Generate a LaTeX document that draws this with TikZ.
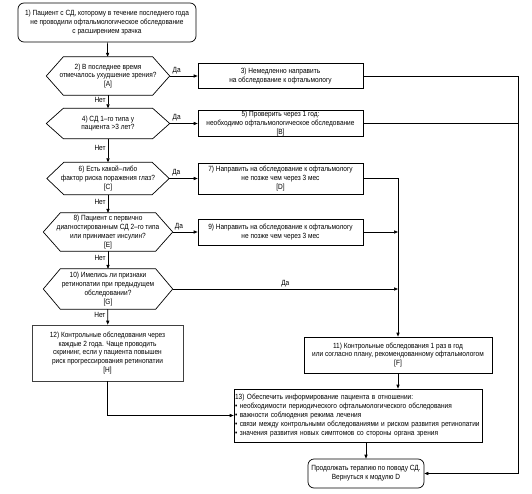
\documentclass[tikz,border=0pt]{standalone}
\usepackage{fontspec}
\setmainfont{Liberation Sans}[FakeStretch=0.87]
\usetikzlibrary{arrows.meta}
\newcommand\hexdraw[1]{\draw[ln] ([xshift=17pt]#1.north west) -- ([xshift=-17pt]#1.north east) -- (#1.east) -- ([xshift=-17pt]#1.south east) -- ([xshift=17pt]#1.south west) -- (#1.west) -- cycle;}
\begin{document}
\begin{tikzpicture}[x=1pt,y=-1pt,
  every node/.style={font=\fontsize{7.5}{8.8}\selectfont, inner sep=1pt},
  ln/.style={line width=0.7pt, black},
  arr/.style={ln, -{Triangle[length=4pt,width=3.2pt]}},
  boxn/.style={draw, line width=0.7pt, align=center},
  rnd/.style={boxn, rounded corners=6pt},
  hexn/.style={align=center, inner sep=0pt},
  lab/.style={font=\fontsize{7.5}{8}\selectfont}
]
\useasboundingbox (0,0) rectangle (532,494);
% nodes
\node[rnd, minimum width=178pt, minimum height=39pt] (n1) at (107,22.5)
  {1) Пациент с СД, которому в течение последнего года\\ не проводили офтальмологическое обследование\\ с расширением зрачка};
\node[hexn, minimum width=123pt, minimum height=38pt] (d2) at (108,76)
  {2) В последнее время\\ отмечалось ухудшение зрения?\\ {[A]}};
\node[boxn, minimum width=165pt, minimum height=25pt] (b3) at (280.5,76)
  {3) Немедленно направить\\ на обследование к офтальмологу};
\node[hexn, minimum width=123pt, minimum height=30pt] (d4) at (108,123.5)
  {4) СД 1–го типа у\\ пациента >3 лет?};
\node[boxn, minimum width=165pt, minimum height=25pt] (b5) at (280.5,123.5)
  {5) Проверить через 1 год:\\ необходимо офтальмологическое обследование\\ {[B]}};
\node[hexn, minimum width=122pt, minimum height=32pt] (d6) at (108,178.5)
  {6) Есть какой–либо\\ фактор риска поражения глаз?\\ {[C]}};
\node[boxn, minimum width=165pt, minimum height=31pt] (b7) at (280.5,178.5)
  {7) Направить на обследование к офтальмологу\\ не позже чем через 3 мес\\ {[D]}};
\node[hexn, minimum width=129pt, minimum height=38pt] (d8) at (108,232)
  {8) Пациент с первично\\ диагностированным СД 2–го типа\\ или принимает инсулин?\\ {[E]}};
\node[boxn, minimum width=165pt, minimum height=26pt] (b9) at (280.5,232)
  {9) Направить на обследование к офтальмологу\\ не позже чем через 3 мес};
\node[hexn, minimum width=129pt, minimum height=40pt] (d10) at (108,289)
  {10) Имелись ли признаки\\ ретинопатии при предыдущем\\ обследовании?\\ {[G]}};
\node[boxn, draw=black!75, minimum width=151pt, minimum height=56pt] (b12) at (107.5,353)
  {12) Контрольные обследования через\\ каждые 2 года. Чаще проводить\\ скрининг, если у пациента повышен\\ риск прогрессирования ретинопатии\\ {[H]}};
\node[boxn, minimum width=188pt, minimum height=36pt] (b11) at (398,355)
  {11) Контрольные обследования 1 раз в год\\ или согласно плану, рекомендованному офтальмологом\\ {[F]}};
\node[boxn, align=left, text width=246pt, minimum height=53pt] (b13) at (358,415.5)
  {13) Обеспечить информирование пациента в отношении:\\ • необходимости периодического офтальмологического обследования\\ • важности соблюдения режима лечения\\ • связи между контрольными обследованиями и риском развития ретинопатии\\ • значения развития новых симптомов со стороны органа зрения};
\node[rnd, minimum width=116pt, minimum height=29pt] (fin) at (366,473.5)
  {Продолжать терапию по поводу СД.\\ Вернуться к модулю D};
\hexdraw{d2}
\hexdraw{d4}
\hexdraw{d6}
\hexdraw{d8}
\hexdraw{d10}
\coordinate (rx) at (518,0);
\coordinate (mx) at (398,0);
% connectors
\draw[arr] (n1) -- (d2);
\draw[arr] (d2) -- node[lab, pos=0.25, above=1pt]{Да} (b3);
\draw[arr] (d2) -- node[lab, pos=0.4, left=1pt]{Нет} (d4);
\draw[arr] (d4) -- node[lab, pos=0.25, above=1pt]{Да} (b5);
\draw[arr] (d4) -- node[lab, pos=0.4, left=1pt]{Нет} (d6);
\draw[arr] (d6) -- node[lab, pos=0.25, above=1pt]{Да} (b7);
\draw[arr] (d6) -- node[lab, pos=0.4, left=1pt]{Нет} (d8);
\draw[arr] (d8) -- node[lab, pos=0.25, above=1pt]{Да} (b9);
\draw[arr] (d8) -- node[lab, pos=0.4, left=1pt]{Нет} (d10);
\draw[arr] (d10.east) -- node[lab, above=1pt, pos=0.5]{Да} (d10.east -| mx);
\draw[arr] (d10) -- node[lab, pos=0.4, left=1pt]{Нет} (b12);
\draw[arr] (b7.east) -- (b7.east -| mx) -- (b11.north);
\draw[arr] (b9.east) -- (b9.east -| mx);
\draw[arr] (b3.east) -- (b3.east -| rx) |- (fin.east);
\draw[ln] (b5.east) -- (b5.east -| rx);
\draw[arr] (b12.south) |- (b13.west);
\draw[arr] (b11.south) -- (b11.south |- b13.north);
\draw[arr] (fin.north |- b13.south) -- (fin.north);
\end{tikzpicture}
\end{document}
